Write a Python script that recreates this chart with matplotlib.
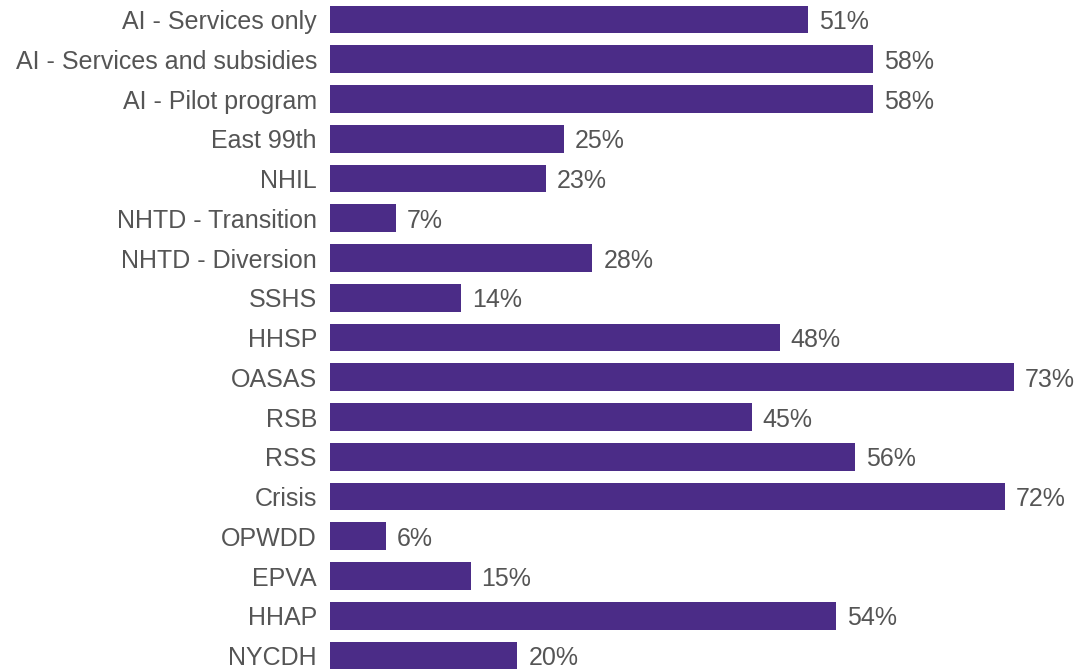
import matplotlib
matplotlib.use("Agg")
import matplotlib.pyplot as plt
from matplotlib.transforms import offset_copy

categories = ["AI - Services only", "AI - Services and subsidies", "AI - Pilot program",
              "East 99th", "NHIL", "NHTD - Transition", "NHTD - Diversion", "SSHS",
              "HHSP", "OASAS", "RSB", "RSS", "Crisis", "OPWDD", "EPVA", "HHAP", "NYCDH"]
values = [51, 58, 58, 25, 23, 7, 28, 14, 48, 73, 45, 56, 72, 6, 15, 54, 20]

bar_color = "#4B2C87"
text_color = "#555555"

plt.rcParams['font.family'] = ['Liberation Sans', 'DejaVu Sans']

W, H = 1082, 671
fig = plt.figure(figsize=(W / 100, H / 100), dpi=100)
pitch = 39.75
top_px = 19.5 - pitch / 2
bot_px = 655.5 + pitch / 2
left_px = 330
xmax = 80
right_px = left_px + xmax * 9.37
ax = fig.add_axes([left_px / W, 1 - bot_px / H, (right_px - left_px) / W, (bot_px - top_px) / H])

ypos = list(range(len(categories)))
ax.barh(ypos, values, height=0.7, color=bar_color)
ax.set_xlim(0, xmax)
ax.set_ylim(len(categories) - 0.5, -0.5)

ax.set_yticks(ypos)
ax.set_yticklabels(categories, fontsize=18, color=text_color, va='center_baseline')
ax.tick_params(axis='y', length=0, pad=9.4)
ax.set_xticks([])
for s in ax.spines.values():
    s.set_visible(False)

trans = offset_copy(ax.transData, fig=fig, x=11, y=0, units='dots')
for y, v in zip(ypos, values):
    ax.text(v, y, f"{v}%", transform=trans, va='center_baseline', ha='left',
            fontsize=18, color=text_color, clip_on=False)

fig.savefig("out.png", dpi=100)
